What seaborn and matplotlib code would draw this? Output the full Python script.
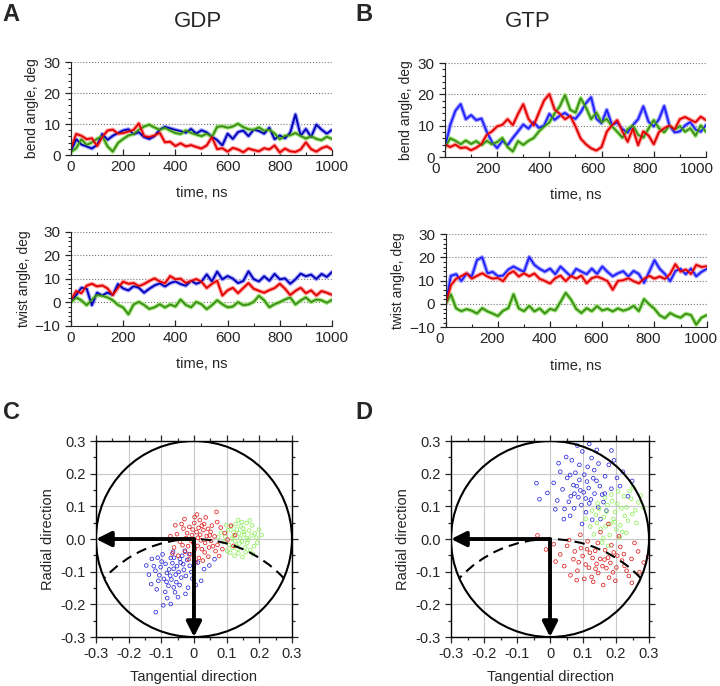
import numpy as np
import pandas as pd
import matplotlib
matplotlib.use("Agg")
import matplotlib.pyplot as plt
import matplotlib.transforms as mtransforms
import seaborn as sns
from matplotlib.patches import Circle, Arc
from matplotlib.ticker import MultipleLocator

# time axis of the traces, ns (one reading every 20 ns)
time_ns = list(range(0, 1001, 20))

# GDP, bend angle (deg)
gdp_bend_blue = [1.2, 5.1, 3.4, 2.8, 2.1, 3.3, 6.8, 4.9, 6.2, 7.1, 7.9, 8.3, 6.7, 7.4, 5.8, 5.2, 6.1,
                 8.2, 9.1, 8.6, 8.1, 7.7, 7.2, 8.4, 6.9, 8.0, 7.3, 5.9, 4.8, 3.1, 6.9, 5.2, 7.4, 7.9,
                 6.1, 8.2, 7.8, 6.9, 8.8, 5.1, 6.3, 5.4, 7.2, 13.1, 6.2, 8.4, 5.8, 9.8, 8.2, 6.9, 8.1]
gdp_bend_green = [1.0, 2.2, 5.1, 3.2, 4.1, 5.2, 6.1, 2.8, 1.1, 3.9, 5.2, 6.3, 6.8, 8.1, 9.2, 9.8, 8.9,
                  8.1, 8.8, 7.9, 7.1, 6.8, 7.9, 7.2, 6.6, 6.1, 6.9, 5.8, 9.1, 9.3, 8.8, 9.2, 10.1, 9.0,
                  8.3, 8.1, 8.9, 7.8, 8.2, 6.9, 5.1, 6.2, 6.4, 7.1, 6.2, 5.3, 6.1, 5.2, 4.8, 5.9, 5.2]
gdp_bend_red = [2.1, 6.8, 6.2, 5.1, 5.4, 2.9, 5.8, 7.9, 8.2, 6.9, 7.1, 7.6, 8.1, 10.2, 6.1, 5.8, 6.3,
                7.2, 4.1, 4.3, 2.9, 3.8, 2.8, 3.2, 2.6, 2.1, 3.1, 5.8, 1.9, 2.2, 1.1, 2.3, 1.8, 0.9,
                2.1, 1.6, 1.2, 2.2, 1.8, 3.1, 0.8, 2.1, 1.2, 1.0, 1.8, 4.1, 1.9, 1.1, 2.2, 2.8, 1.8]

# GTP, bend angle (deg)
gtp_bend_blue = [3.0, 10.2, 14.8, 16.9, 12.1, 13.4, 11.8, 12.3, 8.1, 4.8, 2.9, 5.2, 3.8, 6.1, 8.2,
                 10.4, 9.1, 11.2, 9.3, 10.1, 13.8, 11.9, 13.2, 14.1, 12.8, 12.2, 14.3, 17.2, 19.1,
                 12.3, 10.8, 15.1, 10.2, 11.1, 8.9, 7.8, 10.2, 12.1, 16.2, 11.3, 9.8, 12.1, 16.3,
                 10.1, 7.9, 8.2, 10.1, 11.2, 8.8, 8.1, 10.2]
gtp_bend_green = [3.1, 6.0, 5.2, 4.1, 5.3, 4.2, 5.1, 3.8, 5.2, 4.1, 4.8, 6.1, 3.2, 1.8, 5.1, 3.9, 5.2,
                  6.1, 8.2, 9.8, 11.1, 13.9, 16.2, 19.8, 15.1, 14.2, 18.8, 15.9, 12.1, 14.2, 11.1,
                  12.2, 9.8, 8.1, 6.2, 8.9, 10.1, 7.1, 6.2, 9.1, 11.8, 9.2, 7.9, 10.1, 8.8, 9.9, 8.1,
                  9.2, 6.8, 10.1, 8.1]
gtp_bend_red = [4.1, 3.2, 4.0, 2.9, 3.1, 2.2, 3.0, 4.2, 7.1, 8.2, 9.8, 10.3, 12.1, 10.2, 13.8, 16.9,
                12.2, 10.1, 14.2, 18.1, 20.1, 15.2, 13.8, 12.1, 13.2, 9.8, 5.9, 4.1, 2.8, 2.1, 3.2,
                8.1, 10.2, 11.8, 8.2, 4.9, 9.1, 3.8, 8.2, 6.9, 4.1, 8.0, 9.2, 10.1, 8.8, 12.1, 12.8,
                11.9, 11.1, 12.9, 11.8]

# GDP, twist angle (deg)
gdp_twist_blue = [0.2, 3.1, 6.2, 5.8, -1.2, 4.1, 2.9, 4.2, 3.1, 7.8, 5.9, 5.1, 6.9, 6.2, 4.1, 5.8,
                  7.2, 8.1, 6.8, 8.2, 8.9, 7.8, 7.1, 9.2, 7.9, 8.8, 11.9, 8.9, 13.1, 9.8, 11.2, 10.1,
                  8.2, 9.1, 13.2, 9.9, 8.9, 11.1, 9.2, 12.1, 9.8, 10.2, 7.9, 9.8, 12.2, 11.1, 11.8,
                  9.9, 12.1, 10.8, 12.9]
gdp_twist_green = [0.1, 2.1, 0.8, -1.2, 1.1, 3.1, 2.8, 2.1, 0.9, -1.1, -2.2, -5.1, -0.9, 0.2, -1.1,
                   -2.8, -2.1, -0.8, -2.2, -0.9, -1.8, 1.2, -1.1, -2.1, 0.2, -0.8, -2.9, -1.2, 0.9,
                   -0.8, -2.1, -1.8, 0.1, -1.2, -0.9, 0.2, 2.8, 0.9, -2.1, -0.8, 0.1, 1.2, 2.1, -0.9,
                   0.8, 2.1, 0.1, 1.2, 0.9, -0.2, 1.1]
gdp_twist_red = [1.0, 4.8, 3.9, 7.1, 7.9, 6.8, 7.2, 5.9, 3.1, 6.2, 8.8, 7.9, 8.2, 6.9, 7.8, 9.1, 10.2,
                 8.9, 8.1, 11.2, 9.8, 10.1, 8.2, 9.1, 9.9, 8.8, 6.1, 7.9, 9.2, 2.9, 5.1, 6.2, 3.9,
                 6.1, 8.2, 5.8, 4.9, 4.1, 5.2, 6.1, 7.9, 5.8, 3.1, 4.9, 6.2, 3.9, 5.1, 2.9, 4.8, 4.1,
                 3.2]

# GTP, twist angle (deg)
gtp_twist_blue = [0.0, 12.1, 12.8, 9.9, 13.1, 11.8, 18.9, 20.1, 13.2, 13.8, 11.9, 12.2, 14.8, 16.1,
                  14.9, 13.8, 20.2, 16.8, 15.1, 13.9, 15.2, 12.8, 16.1, 13.9, 11.8, 15.1, 13.9, 12.8,
                  15.2, 12.9, 16.1, 13.8, 11.9, 13.2, 14.1, 11.8, 14.2, 12.9, 9.1, 13.9, 18.8, 15.1,
                  12.9, 9.8, 14.2, 15.1, 12.8, 15.2, 11.9, 13.8, 15.1]
gtp_twist_green = [0.0, 4.1, -1.9, -3.1, -2.2, -2.9, -4.1, -1.8, -3.2, -4.1, -5.2, -2.9, -1.8, 4.2,
                   -1.9, -3.1, -0.8, -3.2, -1.9, -4.1, -2.1, -2.8, 0.9, 4.8, 1.9, -2.1, -3.9, -1.8,
                   -3.1, -0.9, -2.8, -2.1, -3.2, -1.9, -2.9, -2.2, -0.8, -3.1, 2.1, -0.2, -2.1, -4.9,
                   -6.1, -3.9, -5.1, -5.9, -4.2, -4.8, -8.9, -5.9, -4.8]
gtp_twist_red = [0.0, 8.1, 10.8, 11.9, 13.2, 10.9, 12.1, 13.2, 11.8, 10.9, 11.2, 9.8, 12.9, 14.1,
                 11.8, 13.2, 11.9, 13.1, 10.8, 9.9, 8.8, 11.1, 12.2, 9.8, 12.1, 10.9, 12.2, 8.9,
                 11.1, 11.8, 10.9, 9.8, 6.1, 9.9, 10.2, 11.1, 9.8, 8.9, 10.8, 12.1, 10.9, 11.8,
                 10.8, 12.9, 17.1, 13.9, 14.8, 12.9, 16.8, 15.9, 16.2]

# projections of the axis tip (tangential, radial), GDP
gdp_blue_xy = [(-0.062, -0.091), (-0.041, -0.072), (-0.083, -0.104), (-0.025, -0.113), (-0.071, -0.058),
               (-0.102, -0.086), (-0.054, -0.132), (-0.013, -0.082), (-0.092, -0.122), (-0.036, -0.051),
               (-0.078, -0.143), (-0.118, -0.097), (-0.047, -0.101), (-0.005, -0.121), (-0.066, -0.074),
               (-0.129, -0.061), (-0.021, -0.064), (-0.087, -0.076), (-0.058, -0.163), (-0.031, -0.094),
               (-0.109, -0.128), (-0.073, -0.112), (0.012, -0.072), (-0.044, -0.141), (-0.096, -0.047),
               (-0.064, -0.039), (-0.138, -0.109), (-0.018, -0.149), (-0.082, -0.181), (-0.052, -0.083),
               (-0.114, -0.154), (-0.028, -0.036), (-0.069, -0.124), (0.031, -0.092), (-0.099, -0.069),
               (-0.039, -0.118), (-0.123, -0.083), (-0.008, -0.101), (-0.061, -0.057), (-0.088, -0.162),
               (-0.049, -0.178), (0.022, -0.128), (-0.131, -0.138), (-0.076, -0.093), (-0.033, -0.077),
               (-0.106, -0.111), (-0.015, -0.046), (-0.056, -0.109), (-0.094, -0.203), (0.047, -0.081),
               (-0.071, -0.199), (-0.146, -0.081), (0.063, -0.062), (-0.026, -0.168), (-0.062, -0.148),
               (-0.111, -0.057), (0.006, -0.141), (-0.043, -0.061), (-0.084, -0.131), (-0.117, -0.224)]
gdp_green_xy = [(0.142, 0.003), (0.121, 0.021), (0.163, -0.012), (0.108, -0.018), (0.151, 0.032),
                (0.176, 0.011), (0.133, -0.031), (0.095, 0.008), (0.158, -0.041), (0.127, 0.046),
                (0.184, -0.022), (0.114, 0.037), (0.169, 0.026), (0.138, 0.017), (0.102, -0.036),
                (0.147, -0.008), (0.191, 0.004), (0.124, -0.051), (0.161, 0.049), (0.083, 0.019),
                (0.135, 0.058), (0.172, -0.034), (0.116, 0.001), (0.154, 0.014), (0.199, 0.029),
                (0.129, -0.021), (0.091, -0.009), (0.166, -0.003), (0.143, 0.039), (0.178, 0.042),
                (0.111, -0.042), (0.149, -0.055), (0.186, 0.018), (0.122, 0.009), (0.157, -0.026),
                (0.074, 0.006), (0.139, -0.014), (0.171, 0.057), (0.104, 0.027), (0.194, -0.011),
                (0.131, 0.029), (0.162, 0.003), (0.118, -0.027), (0.146, 0.052), (0.181, -0.046),
                (0.136, -0.044), (0.207, 0.012), (0.099, 0.043), (0.153, 0.022), (0.126, -0.006)]
gdp_red_xy = [(0.012, 0.004), (-0.021, 0.018), (0.034, -0.012), (0.003, -0.031), (0.051, 0.022),
              (-0.043, -0.008), (0.024, 0.041), (-0.011, -0.047), (0.046, -0.026), (-0.032, 0.032),
              (0.063, 0.008), (0.015, -0.058), (-0.052, 0.015), (0.029, 0.027), (0.001, 0.049),
              (0.072, -0.018), (-0.018, -0.022), (0.021, -0.004), (0.055, 0.041), (-0.061, -0.026),
              (0.008, 0.021), (0.039, 0.009), (-0.006, 0.012), (0.033, -0.041), (-0.027, -0.039),
              (0.082, 0.035), (-0.002, -0.012), (0.018, 0.058), (-0.038, 0.046), (0.066, -0.037),
              (0.011, -0.021), (-0.024, 0.003), (0.043, 0.031), (0.103, -0.002), (0.121, -0.021),
              (-0.072, 0.009), (0.027, -0.066), (-0.004, 0.029), (0.052, -0.006), (-0.014, 0.037),
              (0.019, 0.013), (0.071, 0.052), (-0.048, -0.051), (0.006, -0.071), (0.036, 0.066),
              (0.094, 0.018), (-0.029, 0.061), (0.002, 0.067), (0.044, -0.054), (0.113, 0.041),
              (0.069, 0.083), (-0.057, 0.042), (0.024, -0.031), (-0.009, -0.005), (0.058, -0.022),
              (0.031, 0.046), (-0.035, -0.019), (0.087, -0.031), (0.014, 0.034), (-0.016, -0.062),
              (0.048, 0.011), (0.126, 0.012), (0.077, -0.052), (-0.066, -0.044), (0.009, 0.075)]

# projections of the axis tip (tangential, radial), GTP
gtp_blue_xy = [(0.102, 0.143), (0.081, 0.162), (0.124, 0.121), (0.063, 0.131), (0.141, 0.178),
               (0.095, 0.104), (0.052, 0.187), (0.117, 0.156), (0.158, 0.136), (0.073, 0.094),
               (0.134, 0.211), (0.038, 0.152), (0.109, 0.082), (0.167, 0.192), (0.089, 0.227),
               (0.022, 0.118), (0.146, 0.097), (0.061, 0.071), (0.126, 0.248), (0.186, 0.154),
               (0.077, 0.203), (0.011, 0.172), (0.112, 0.176), (0.153, 0.061), (0.044, 0.092),
               (0.098, 0.268), (0.178, 0.227), (0.135, 0.139), (0.066, 0.241), (-0.008, 0.141),
               (0.119, 0.109), (0.203, 0.187), (0.086, 0.128), (0.031, 0.206), (0.162, 0.113),
               (0.104, 0.197), (0.142, 0.273), (0.057, 0.114), (0.194, 0.241), (0.071, 0.165),
               (0.128, 0.059), (-0.032, 0.122), (0.092, 0.149), (0.221, 0.206), (0.049, 0.251),
               (0.171, 0.087), (0.114, 0.221), (0.016, 0.091), (0.083, 0.286), (0.151, 0.162),
               (0.236, 0.131), (0.097, 0.046), (0.131, 0.186), (0.061, 0.196), (0.186, 0.271),
               (0.026, 0.232), (0.108, 0.124), (0.147, 0.231), (0.074, 0.139), (0.212, 0.162),
               (0.119, 0.291), (-0.041, 0.171), (0.166, 0.139), (0.042, 0.061), (0.089, 0.181),
               (0.249, 0.178)]
gtp_green_xy = [(0.192, 0.061), (0.171, 0.084), (0.213, 0.042), (0.154, 0.031), (0.232, 0.097),
                (0.181, 0.012), (0.246, 0.123), (0.163, 0.067), (0.204, 0.108), (0.142, 0.049),
                (0.227, 0.071), (0.186, 0.136), (0.258, 0.088), (0.133, 0.014), (0.219, 0.022),
                (0.174, 0.104), (0.241, 0.147), (0.158, -0.011), (0.197, 0.083), (0.268, 0.112),
                (0.149, 0.092), (0.211, 0.004), (0.236, 0.056), (0.122, 0.038), (0.183, 0.047),
                (0.252, 0.158), (0.167, 0.126), (0.224, 0.131), (0.108, 0.062), (0.201, 0.029),
                (0.275, 0.133), (0.139, 0.074), (0.188, 0.116), (0.249, 0.076), (0.161, 0.002),
                (0.216, 0.094), (0.177, -0.021), (0.262, 0.049), (0.144, 0.109), (0.206, 0.146),
                (0.231, 0.019), (0.128, 0.087), (0.196, 0.052), (0.283, 0.096), (0.169, 0.039)]
gtp_red_xy = [(0.152, -0.061), (0.121, -0.042), (0.183, -0.073), (0.094, -0.028), (0.204, -0.051),
              (0.138, -0.091), (0.071, -0.062), (0.167, -0.034), (0.226, -0.082), (0.108, -0.078),
              (0.191, -0.102), (0.052, -0.021), (0.145, -0.012), (0.247, -0.061), (0.083, -0.097),
              (0.176, -0.057), (0.126, -0.116), (0.213, -0.024), (0.031, -0.047), (0.159, -0.083),
              (0.267, -0.038), (0.099, -0.052), (0.198, -0.128), (0.137, -0.036), (0.062, -0.111),
              (0.232, -0.097), (0.114, -0.007), (0.179, -0.118), (0.011, -0.016), (0.218, -0.066),
              (0.146, -0.104), (0.087, -0.071), (0.256, -0.012), (0.171, -0.089), (0.043, -0.083),
              (0.129, -0.058), (0.193, -0.041), (0.284, -0.072), (0.104, -0.122), (0.161, -0.141),
              (0.239, -0.113), (0.075, -0.038), (0.209, 0.009), (0.118, -0.088), (-0.012, -0.032),
              (0.186, -0.019), (0.153, 0.021), (0.271, -0.102), (0.058, -0.003), (0.224, -0.046),
              (0.131, -0.131), (0.017, -0.069), (0.297, -0.054), (0.092, 0.013), (0.201, -0.087),
              (-0.038, 0.011), (0.165, -0.063), (0.248, -0.134), (0.112, -0.031), (0.177, 0.046),
              (0.081, -0.126), (0.141, -0.076)]

chains = ["blue", "green", "red"]
halo_pal = {"blue": "#9c9cff", "green": "#9be673", "red": "#ff9a9a"}
dot_pal = {"blue": "#2b2bdc", "green": "#8ef05a", "red": "#e02020"}


def traces(blue, green, red):
    return pd.DataFrame({
        "time": time_ns * 3,
        "angle": blue + green + red,
        "chain": np.repeat(chains, len(time_ns)),
    })


def cloud(blue, green, red):
    pts = blue + green + red
    return pd.DataFrame({
        "tangential": [p[0] for p in pts],
        "radial": [p[1] for p in pts],
        "chain": ["blue"] * len(blue) + ["green"] * len(green) + ["red"] * len(red),
    })


def trace_panel(ax, df, pal, ylim, ylabel, shift=0):
    sns.lineplot(data=df, x="time", y="angle", hue="chain", hue_order=chains,
                 palette=halo_pal, lw=3.0, legend=False, ax=ax)
    sns.lineplot(data=df, x="time", y="angle", hue="chain", hue_order=chains,
                 palette=pal, lw=1.3, legend=False, ax=ax)
    ax.set_xlim(0, 1000)
    ax.set_ylim(*ylim)
    ax.set_xticks(range(0, 1001, 200))
    ax.xaxis.set_minor_locator(MultipleLocator(100))
    ax.yaxis.set_major_locator(MultipleLocator(10))
    ax.yaxis.set_minor_locator(MultipleLocator(2))
    ax.grid(axis="y", ls=":", color="#777777", lw=0.8)
    ax.set_axisbelow(True)
    sns.despine(ax=ax)
    ax.tick_params(axis="both", which="major", labelsize=11, length=4, width=0.9)
    ax.tick_params(axis="both", which="minor", length=2.5, width=0.8)
    ax.tick_params(axis="x", which="both", direction="in")
    ax.set_xlabel("time, ns", fontsize=10.5, labelpad=9)
    ax.set_ylabel(ylabel, fontsize=10, labelpad=3)
    if shift:
        # the GTP column has its tick labels set a little to the left
        off = mtransforms.ScaledTranslation(shift / 100, 0, fig.dpi_scale_trans)
        for lab in ax.get_xticklabels():
            lab.set_transform(lab.get_transform() + off)


def cloud_panel(ax, df):
    sns.scatterplot(data=df, x="tangential", y="radial", hue="chain", palette=dot_pal,
                    s=7, linewidth=0.55, legend=False, ax=ax, zorder=2)
    pts = ax.collections[-1]
    pts.set_edgecolors(pts.get_facecolors())
    pts.set_facecolor("none")
    ax.add_patch(Circle((0, 0), 0.3, fill=False, lw=1.5, color="black", zorder=3))
    ax.add_patch(Arc((0, -0.375), 0.75, 0.75, theta1=42.8, theta2=137.2,
                     ls=(0, (5, 3)), lw=1.5, color="black", zorder=3))
    for tip in [(-0.3, 0), (0, -0.3)]:
        ax.annotate("", xy=tip, xytext=(0, 0), zorder=4,
                    arrowprops=dict(arrowstyle="-|>,head_length=0.9,head_width=0.45",
                                    lw=2.8, color="black", shrinkA=0, shrinkB=0))
    ax.set_xlim(-0.3, 0.3)
    ax.set_ylim(-0.3, 0.3)
    ticks = [-0.3, -0.2, -0.1, 0.0, 0.1, 0.2, 0.3]
    ax.set_xticks(ticks, ["-0.3", "-0.2", "-0.1", "0", "0.1", "0.2", "0.3"])
    ax.set_yticks(ticks, ["-0.3", "-0.2", "-0.1", "0.0", "0.1", "0.2", "0.3"])
    ax.xaxis.set_minor_locator(MultipleLocator(0.05))
    ax.yaxis.set_minor_locator(MultipleLocator(0.05))
    ax.grid(True, which="major", color="#c8c8c8", lw=0.8)
    ax.set_axisbelow(True)
    ax.tick_params(which="both", top=True, right=True, direction="out", width=0.9)
    ax.tick_params(which="major", length=4, labelsize=10.5)
    ax.tick_params(which="minor", length=2.5)
    for sp in ax.spines.values():
        sp.set_color("black")
        sp.set_linewidth(1.0)
    ax.set_xlabel("Tangential direction", fontsize=10.5, labelpad=6)
    ax.set_ylabel("Radial direction", fontsize=10.5, labelpad=4)


sns.set_style("ticks")
plt.rcParams["font.family"] = ["Liberation Sans", "DejaVu Sans"]

fig = plt.figure(figsize=(7.2, 6.86), dpi=100)

gdp_pal = {"blue": "#0000b4", "green": "#3d8c1c", "red": "#e00000"}
gtp_pal = {"blue": "#2020ff", "green": "#3d8c1c", "red": "#e00000"}

ax_a1 = fig.add_axes([0.0986, 0.774, 0.3625, 0.1356])
trace_panel(ax_a1, traces(gdp_bend_blue, gdp_bend_green, gdp_bend_red), gdp_pal, (0, 30), "bend angle, deg")
ax_b1 = fig.add_axes([0.618, 0.771, 0.3625, 0.137])
trace_panel(ax_b1, traces(gtp_bend_blue, gtp_bend_green, gtp_bend_red), gtp_pal, (0, 30), "bend angle, deg", shift=-9)
ax_a2 = fig.add_axes([0.0986, 0.525, 0.3625, 0.137])
trace_panel(ax_a2, traces(gdp_twist_blue, gdp_twist_green, gdp_twist_red), gdp_pal, (-10, 30), "twist angle, deg")
ax_b2 = fig.add_axes([0.619, 0.523, 0.3625, 0.1356])
trace_panel(ax_b2, traces(gtp_twist_blue, gtp_twist_green, gtp_twist_red), gtp_pal, (-10, 30), "twist angle, deg", shift=-6)

ax_c = fig.add_axes([0.1333, 0.0714, 0.2722, 0.2857])
cloud_panel(ax_c, cloud(gdp_blue_xy, gdp_green_xy, gdp_red_xy))
ax_d = fig.add_axes([0.6264, 0.0714, 0.275, 0.2857])
cloud_panel(ax_d, cloud(gtp_blue_xy, gtp_green_xy, gtp_red_xy))

fig.text(0.275, 0.969, "GDP", fontsize=16, ha="center", va="center")
fig.text(0.733, 0.969, "GTP", fontsize=16, ha="center", va="center")
for x, y, letter in [(0.004, 0.995, "A"), (0.493, 0.995, "B"), (0.004, 0.415, "C"), (0.493, 0.415, "D")]:
    fig.text(x, y, letter, fontsize=17, fontweight="bold", ha="left", va="top")

fig.savefig("out.png", dpi=100)
